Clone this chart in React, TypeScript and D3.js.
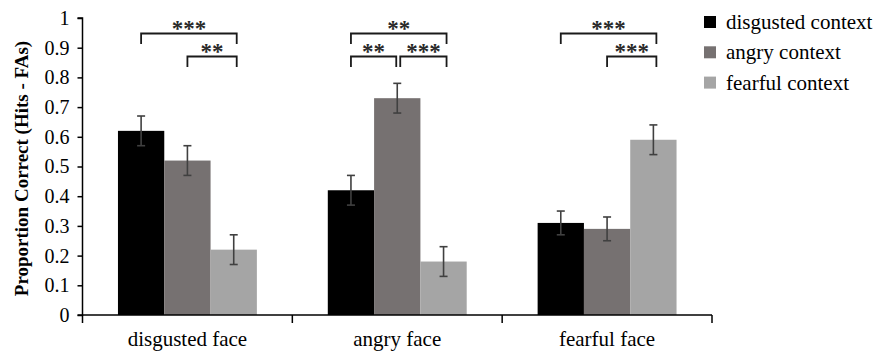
import React, { useEffect, useRef } from "react";
import * as d3 from "d3";

// categories / series
const faces = ["disgusted face", "angry face", "fearful face"];
const contexts = ["disgusted context", "angry context", "fearful context"];
const colors = ["#000000", "#767171", "#a5a5a5"];

// proportion correct per context, one value per face
const disgustedCtx = [0.62, 0.42, 0.31];
const angryCtx = [0.52, 0.73, 0.29];
const fearfulCtx = [0.22, 0.18, 0.59];

// error bar half-lengths
const disgustedErr = [0.05, 0.05, 0.04];
const angryErr = [0.05, 0.05, 0.04];
const fearfulErr = [0.05, 0.05, 0.05];

const yTicks = [0, 0.1, 0.2, 0.3, 0.4, 0.5, 0.6, 0.7, 0.8, 0.9, 1];

// significance brackets: face index, from series, to series, row (0 = lower), stars
const brackets = [
    { face: 0, from: 0, to: 2, row: 1, label: "***" },
    { face: 0, from: 1, to: 2, row: 0, label: "**" },
    { face: 1, from: 0, to: 2, row: 1, label: "**" },
    { face: 1, from: 0, to: 1, row: 0, label: "**" },
    { face: 1, from: 1, to: 2, row: 0, label: "***" },
    { face: 2, from: 0, to: 2, row: 1, label: "***" },
    { face: 2, from: 1, to: 2, row: 0, label: "***" }
];

const FONT = "\"Liberation Serif\", \"DejaVu Serif\", serif";

const Chart = () => {
    const ref = useRef<SVGSVGElement | null>(null);

    useEffect(() => {
        const width = 873;
        const height = 354;
        const margin = { left: 82.5, right: 161, top: 18, bottom: 39 };

        const values = [disgustedCtx, angryCtx, fearfulCtx];
        const errors = [disgustedErr, angryErr, fearfulErr];

        const svg = d3.select(ref.current)
            .attr("width", width)
            .attr("height", height)
            .style("font-family", FONT);
        svg.selectAll("*").remove();

        const x0 = d3.scaleBand<string>()
            .domain(faces)
            .range([margin.left, width - margin.right])
            .paddingInner(0.338)
            .paddingOuter(0.169);

        const x1 = d3.scaleBand<string>()
            .domain(contexts)
            .range([0, x0.bandwidth()]);

        const y = d3.scaleLinear()
            .domain([0, 1])
            .range([height - margin.bottom, margin.top]);

        // bars
        faces.forEach((face, fi) => {
            const g = svg.append("g")
                .attr("transform", `translate(${x0(face)},0)`);

            contexts.forEach((ctx, ci) => {
                const v = values[ci][fi];
                g.append("rect")
                    .attr("x", x1(ctx)!)
                    .attr("y", y(v))
                    .attr("width", x1.bandwidth())
                    .attr("height", y(0) - y(v))
                    .attr("fill", colors[ci]);
            });

            // error bars
            contexts.forEach((ctx, ci) => {
                const v = values[ci][fi];
                const e = errors[ci][fi];
                const cx = x1(ctx)! + x1.bandwidth() / 2;
                const eb = g.append("g")
                    .attr("stroke", "#404040")
                    .attr("stroke-width", 1.6);
                eb.append("line")
                    .attr("x1", cx).attr("x2", cx)
                    .attr("y1", y(v + e)).attr("y2", y(v - e));
                eb.append("line")
                    .attr("x1", cx - 4).attr("x2", cx + 4)
                    .attr("y1", y(v + e)).attr("y2", y(v + e));
                eb.append("line")
                    .attr("x1", cx - 4).attr("x2", cx + 4)
                    .attr("y1", y(v - e)).attr("y2", y(v - e));
            });
        });

        // y axis
        const yAxis = d3.axisLeft(y)
            .tickValues(yTicks)
            .tickSize(5)
            .tickPadding(8)
            .tickFormat(d => String(+(+d).toFixed(1)));

        const ya = svg.append("g")
            .attr("transform", `translate(${margin.left},0)`)
            .call(yAxis);
        ya.attr("font-family", null).attr("font-size", null);
        ya.select(".domain").attr("stroke-width", 1.5).attr("d", `M-5,${y(1)}H0V${y(0)}H-5`);
        ya.selectAll(".tick line").attr("stroke-width", 1.5);
        ya.selectAll(".tick text")
            .style("font-family", FONT)
            .style("font-size", "20px")
            .attr("fill", "#000");

        // x axis with ticks at category boundaries
        const xa = svg.append("g");
        const xEnd = width - margin.right;
        xa.append("line")
            .attr("x1", margin.left).attr("x2", xEnd)
            .attr("y1", y(0)).attr("y2", y(0))
            .attr("stroke", "#000").attr("stroke-width", 1.5);

        const gap = x0.step() * x0.paddingInner() / 2;
        const bounds = faces.map(f => x0(f)! - gap).concat([xEnd]);
        bounds[0] = margin.left;
        xa.selectAll("line.tick")
            .data(bounds)
            .enter()
            .append("line")
            .attr("class", "tick")
            .attr("x1", d => d).attr("x2", d => d)
            .attr("y1", y(0)).attr("y2", y(0) + 8)
            .attr("stroke", "#000").attr("stroke-width", 1.5);

        xa.selectAll("text")
            .data(faces)
            .enter()
            .append("text")
            .attr("x", d => x0(d)! + x0.bandwidth() / 2)
            .attr("y", 346)
            .attr("text-anchor", "middle")
            .style("font-family", FONT)
            .style("font-size", "21px")
            .text(d => d);

        // y label
        svg.append("text")
            .attr("transform", `translate(28, ${(y(0) + y(1)) / 2 + 2}) rotate(-90)`)
            .attr("text-anchor", "middle")
            .style("font-family", FONT)
            .style("font-weight", "bold")
            .style("font-size", "19px")
            .text("Proportion Correct (Hits - FAs)");

        // significance brackets
        const rowY = [56.5, 33.5];
        brackets.forEach(b => {
            const face = faces[b.face];
            const cxFrom = x0(face)! + x1(contexts[b.from])! + x1.bandwidth() / 2;
            const cxTo = x0(face)! + x1(contexts[b.to])! + x1.bandwidth() / 2;
            // leave a small gap where two lower brackets meet
            const shared = brackets.some(o => o !== b && o.face === b.face && o.row === b.row && (o.from === b.to || o.to === b.from));
            const xa1 = shared && b.from !== 0 ? cxFrom + 3 : cxFrom;
            const xa2 = shared && b.to !== 2 ? cxTo - 1 : cxTo + 3;
            const ly = rowY[b.row];
            svg.append("path")
                .attr("d", `M${xa1},${ly + 10.5}V${ly}H${xa2}V${ly + 10.5}`)
                .attr("fill", "none")
                .attr("stroke", "#1a1a1a")
                .attr("stroke-width", 1.8);
            svg.append("text")
                .attr("x", (xa1 + xa2) / 2)
                .attr("y", ly + 2)
                .attr("text-anchor", "middle")
                .style("font-family", FONT)
                .style("font-size", "23px")
                .style("font-weight", "bold")
                .attr("fill", "#2a2a2a")
                .text(b.label);
        });

        // legend
        const lg = svg.append("g").attr("transform", "translate(704,16)");
        contexts.forEach((c, i) => {
            const row = lg.append("g").attr("transform", `translate(0,${i * 30.3})`);
            row.append("rect")
                .attr("width", 12)
                .attr("height", 12)
                .attr("fill", colors[i]);
            row.append("text")
                .attr("x", 22)
                .attr("y", 13)
                .style("font-family", FONT)
                .style("font-size", "21px")
                .text(c);
        });
    }, []);

    return (
        <svg ref={ref} style={{ position: "absolute", left: 0, top: 0, background: "#fff" }}></svg>
    );
};

export default function App() {
    return <Chart />;
}
